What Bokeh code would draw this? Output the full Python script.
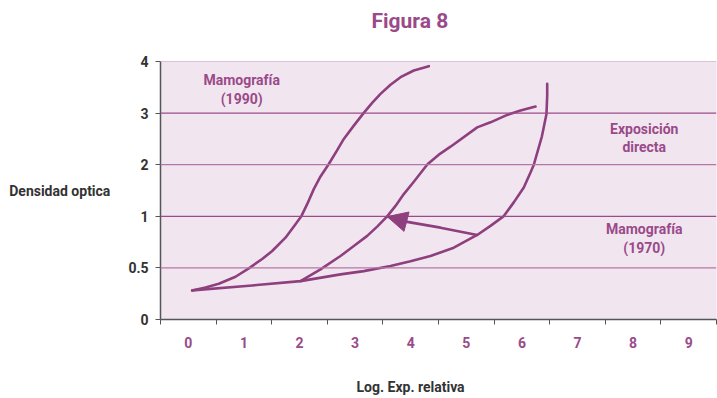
import numpy as np
from bokeh.plotting import figure
from bokeh.models import FixedTicker, Label, Span, Arrow, NormalHead, Title
from bokeh.embed import file_html
from bokeh.resources import INLINE

# ---- data ----
x_labels = ["0", "1", "2", "3", "4", "5", "6", "7", "8", "9"]
y_tick_values = [0, 0.5, 1, 2, 3, 4]
y_tick_labels = ["0", "0.5", "1", "2", "3", "4"]

mamo1990_x = [0.07, 0.309, 0.549, 0.849, 1.088, 1.329, 1.509, 1.748, 1.928, 2.036, 2.138, 2.257,
              2.378, 2.527, 2.665, 2.797, 2.977, 3.156, 3.307, 3.457, 3.637, 3.817, 4.056, 4.326]
mamo1990_d = [0.282, 0.311, 0.346, 0.414, 0.496, 0.586, 0.664, 0.793, 0.923, 1.008, 1.235, 1.527,
              1.772, 2.013, 2.258, 2.499, 2.757, 3.004, 3.198, 3.373, 3.548, 3.696, 3.826, 3.91]

directa_x = [2.018, 2.378, 2.737, 2.977, 3.218, 3.397, 3.577, 3.727, 3.876, 4.056, 4.302,
             4.50, 4.716, 5.196, 5.435, 5.736, 5.975, 6.245]
directa_d = [0.372, 0.486, 0.615, 0.712, 0.810, 0.900, 0.999, 1.202, 1.430, 1.669, 2.009,
             2.19, 2.349, 2.724, 2.821, 2.965, 3.049, 3.126]

mamo1970_x = [0.07, 1.149, 2.018, 2.737, 3.156, 3.636, 3.996, 4.356, 4.775, 5.196, 5.435, 5.669,
              5.854, 6.034, 6.155, 6.214, 6.36, 6.442, 6.455, 6.455]
mamo1970_d = [0.282, 0.330, 0.372, 0.437, 0.469, 0.518, 0.564, 0.615, 0.696, 0.819, 0.907, 0.999,
              1.27, 1.558, 1.849, 1.999, 2.55, 2.984, 3.34, 3.567]

arrow_x = [5.196, 4.536, 3.937, 3.577]
arrow_d = [0.819, 0.890, 0.946, 0.997]

# ---- styling ----
PURPLE = "#8E3F7E"
TEXT_PURPLE = "#9A4A89"
GRAY = "#333333"
FONT = "Roboto"

pos_idx = list(range(len(y_tick_values)))


def ypos(d):
    return np.interp(d, y_tick_values, pos_idx)


p = figure(width=717, height=398, output_backend="svg", toolbar_location=None,
           x_range=(-0.5, 9.5), y_range=(0, 5),
           min_border_left=160, min_border_right=1, min_border_top=61, min_border_bottom=79)
p.background_fill_color = "#F1E6F0"
p.border_fill_color = "white"
p.outline_line_color = None
p.xgrid.visible = False
p.ygrid.visible = False
p.title.visible = False

# title (spacer between frame and title sets its height)
p.add_layout(Title(text=" ", text_font_size="1px", standoff=24), "above")
p.add_layout(Title(text="Figura 8", align="left", offset=211, standoff=4,
                   text_color=TEXT_PURPLE, text_font=FONT, text_font_style="bold",
                   text_font_size="21px"), "above")

# x axis label as a bottom title (after a spacer)
p.add_layout(Title(text=" ", text_font_size="1px", standoff=23), "below")
p.add_layout(Title(text="Log. Exp. relativa", align="left", offset=196, standoff=0,
                   text_color=GRAY, text_font=FONT, text_font_style="bold",
                   text_font_size="14px"), "below")

# grid lines
grid_colors = ["#B577A6", "#9B4B8A", "#B577A6", "#9B4B8A", "#C58DB8"]
for i, c in zip(pos_idx[1:], grid_colors):
    p.add_layout(Span(location=i, dimension="width", line_color=c, line_width=1.2))

# axes
p.xaxis.ticker = FixedTicker(ticks=list(range(len(x_labels))),
                             minor_ticks=[i - 0.5 for i in range(len(x_labels) + 1)])
p.xaxis.major_label_overrides = {i: s for i, s in enumerate(x_labels)}
p.xaxis.major_tick_in = 0
p.xaxis.major_tick_out = 0
p.xaxis.minor_tick_in = 0
p.xaxis.minor_tick_out = 5
p.xaxis.minor_tick_line_color = "#555555"
p.xaxis.axis_line_color = "#555555"
p.xaxis.axis_line_width = 1.5
p.xaxis.major_label_standoff = 12
p.xaxis.major_label_text_color = TEXT_PURPLE
p.xaxis.major_label_text_font = FONT
p.xaxis.major_label_text_font_style = "bold"
p.xaxis.major_label_text_font_size = "14px"

p.yaxis.ticker = FixedTicker(ticks=pos_idx, minor_ticks=[])
p.yaxis.major_label_overrides = {i: s for i, s in zip(pos_idx, y_tick_labels)}
p.yaxis.major_tick_in = 0
p.yaxis.major_tick_out = 5
p.yaxis.major_tick_line_color = "#555555"
p.yaxis.axis_line_color = "#555555"
p.yaxis.axis_line_width = 1.5
p.yaxis.major_label_standoff = 7
p.yaxis.major_label_text_color = GRAY
p.yaxis.major_label_text_font = FONT
p.yaxis.major_label_text_font_style = "bold"
p.yaxis.major_label_text_font_size = "14px"
p.yaxis.axis_label = "Densidad optica"
p.yaxis.axis_label_orientation = "horizontal"
p.yaxis.axis_label_standoff = 15
p.yaxis.axis_label_text_color = GRAY
p.yaxis.axis_label_text_font = FONT
p.yaxis.axis_label_text_font_style = "bold"
p.yaxis.axis_label_text_font_size = "14px"

# curves
for xs, ds in [(mamo1990_x, mamo1990_d), (directa_x, directa_d), (mamo1970_x, mamo1970_d)]:
    p.line(xs, ypos(ds), line_color=PURPLE, line_width=2.6, line_cap="round", line_join="round")

# arrow
ay = ypos(arrow_d)
p.line(arrow_x, ay, line_color=PURPLE, line_width=2.6, line_cap="round", line_join="round")
p.add_layout(Arrow(end=NormalHead(size=20, fill_color=PURPLE, line_color=PURPLE),
                   x_start=arrow_x[-2], y_start=ay[-2], x_end=arrow_x[-1], y_end=ay[-1],
                   line_color=PURPLE, line_width=2.6))

# inside labels
inner = [("Mamografía", 0.96, 4.65), ("(1990)", 0.96, 4.28),
         ("Exposición", 8.2, 3.70), ("directa", 8.2, 3.35),
         ("Mamografía", 8.2, 1.755), ("(1970)", 8.2, 1.386)]
for t, x, y in inner:
    p.add_layout(Label(x=x, y=y, text=t, text_align="center", text_baseline="middle",
                       text_color=TEXT_PURPLE, text_font=FONT, text_font_style="bold",
                       text_font_size="14px"))

open("out.html", "w").write(file_html(p, INLINE))
